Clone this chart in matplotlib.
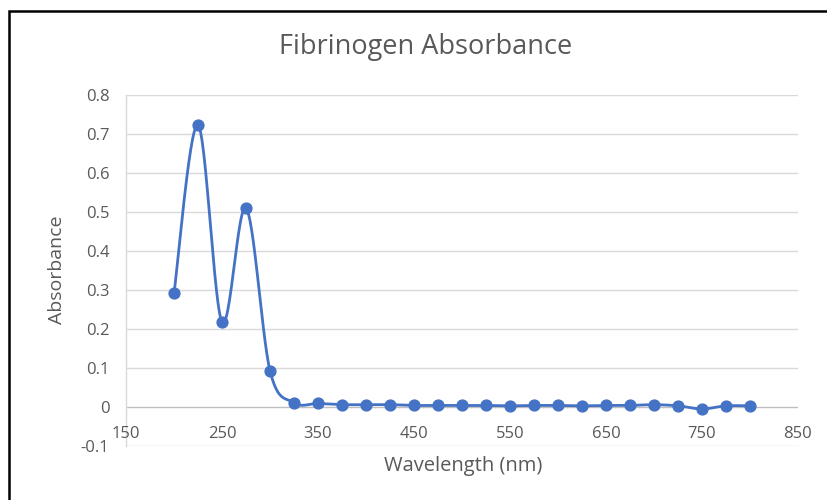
import numpy as np
import matplotlib
matplotlib.use("Agg")
import matplotlib.pyplot as plt
from matplotlib.patches import Rectangle

wavelength = [200, 225, 250, 275, 300, 325, 350, 375, 400, 425, 450, 475, 500,
              525, 550, 575, 600, 625, 650, 675, 700, 725, 750, 775, 800]
absorbance = [0.292, 0.723, 0.218, 0.510, 0.093, 0.011, 0.009, 0.006, 0.006, 0.006,
              0.004, 0.004, 0.004, 0.004, 0.003, 0.004, 0.004, 0.003, 0.004, 0.004,
              0.006, 0.003, -0.005, 0.003, 0.003]
x_ticks = [150, 250, 350, 450, 550, 650, 750, 850]
y_ticks = [-0.1, 0, 0.1, 0.2, 0.3, 0.4, 0.5, 0.6, 0.7, 0.8]

title = "Fibrinogen Absorbance"
xlabel = "Wavelength (nm)"
ylabel = "Absorbance"

BLUE = "#4472C4"
GRAY = "#595959"
GRID = "#D9D9D9"

plt.rcParams['font.family'] = ['Open Sans', 'DejaVu Sans']

W, H = 827, 500
fig = plt.figure(figsize=(W / 100, H / 100), dpi=100)
ax = fig.add_axes([126 / W, 1 - 446 / H, (798 - 126) / W, (446 - 95) / H])

# smooth curve (Catmull-Rom via cubic Bezier, like Excel smoothing)
x = np.array(wavelength, float)
y = np.array(absorbance, float)
sx, sy = 96 / 100.0, 390 / 1.0
P = np.column_stack([x * sx, y * sy])
n = len(P)
curve = []
t = np.linspace(0, 1, 30)
for i in range(n - 1):
    p0 = P[i]
    p3 = P[i + 1]
    pm = P[i - 1] if i > 0 else P[i]
    pp = P[i + 2] if i + 2 < n else P[i + 1]
    c1 = p0 + (p3 - pm) / 6.0
    c2 = p3 - (pp - p0) / 6.0
    b = ((1 - t) ** 3)[:, None] * p0 + (3 * (1 - t) ** 2 * t)[:, None] * c1 + \
        (3 * (1 - t) * t ** 2)[:, None] * c2 + (t ** 3)[:, None] * p3
    curve.append(b if i == 0 else b[1:])
curve = np.vstack(curve)
ax.plot(curve[:, 0] / sx, curve[:, 1] / sy, color=BLUE, lw=2.0, zorder=3,
        solid_capstyle='round')
ax.plot(x, y, 'o', color=BLUE, ms=7.8, zorder=4)

ax.set_xlim(150, 850)
ax.set_ylim(-0.1, 0.8)
ax.set_yticks(y_ticks)
ax.set_yticklabels(["-0.1", "0", "0.1", "0.2", "0.3", "0.4", "0.5", "0.6", "0.7", "0.8"])
ax.set_xticks([])
for s in ax.spines.values():
    s.set_visible(False)
ax.spines['left'].set_visible(True)
ax.spines['left'].set_color(GRID)
ax.spines['left'].set_linewidth(1.0)
for v in y_ticks:
    ax.axhline(v, color=("#BFBFBF" if v == 0 else GRID), lw=1.0, zorder=1)
ax.tick_params(axis='y', length=0, labelsize=12, labelcolor=GRAY, pad=12)

for xv in x_ticks:
    ax.text(xv, -0.069, str(xv), ha='center', va='center', fontsize=12, color=GRAY,
            transform=ax.transData)

fig.text(426 / W, 1 - 47 / H, title, ha='center', va='center', fontsize=19.5, color=GRAY)
fig.text(463 / W, 1 - 466 / H, xlabel, ha='center', va='center', fontsize=14.5, color=GRAY)
fig.text(57 / W, 1 - 270 / H, ylabel, ha='center', va='center', fontsize=14,
         color=GRAY, rotation=90)

# outer black frame (extends beyond right/bottom edge)
fig.patches.append(Rectangle((9 / W, -0.2), 1.2, 1 - 11 / H + 0.2, transform=fig.transFigure,
                             fill=False, edgecolor='black', lw=1.8, figure=fig))

fig.savefig("out.png", dpi=100, facecolor='white')
